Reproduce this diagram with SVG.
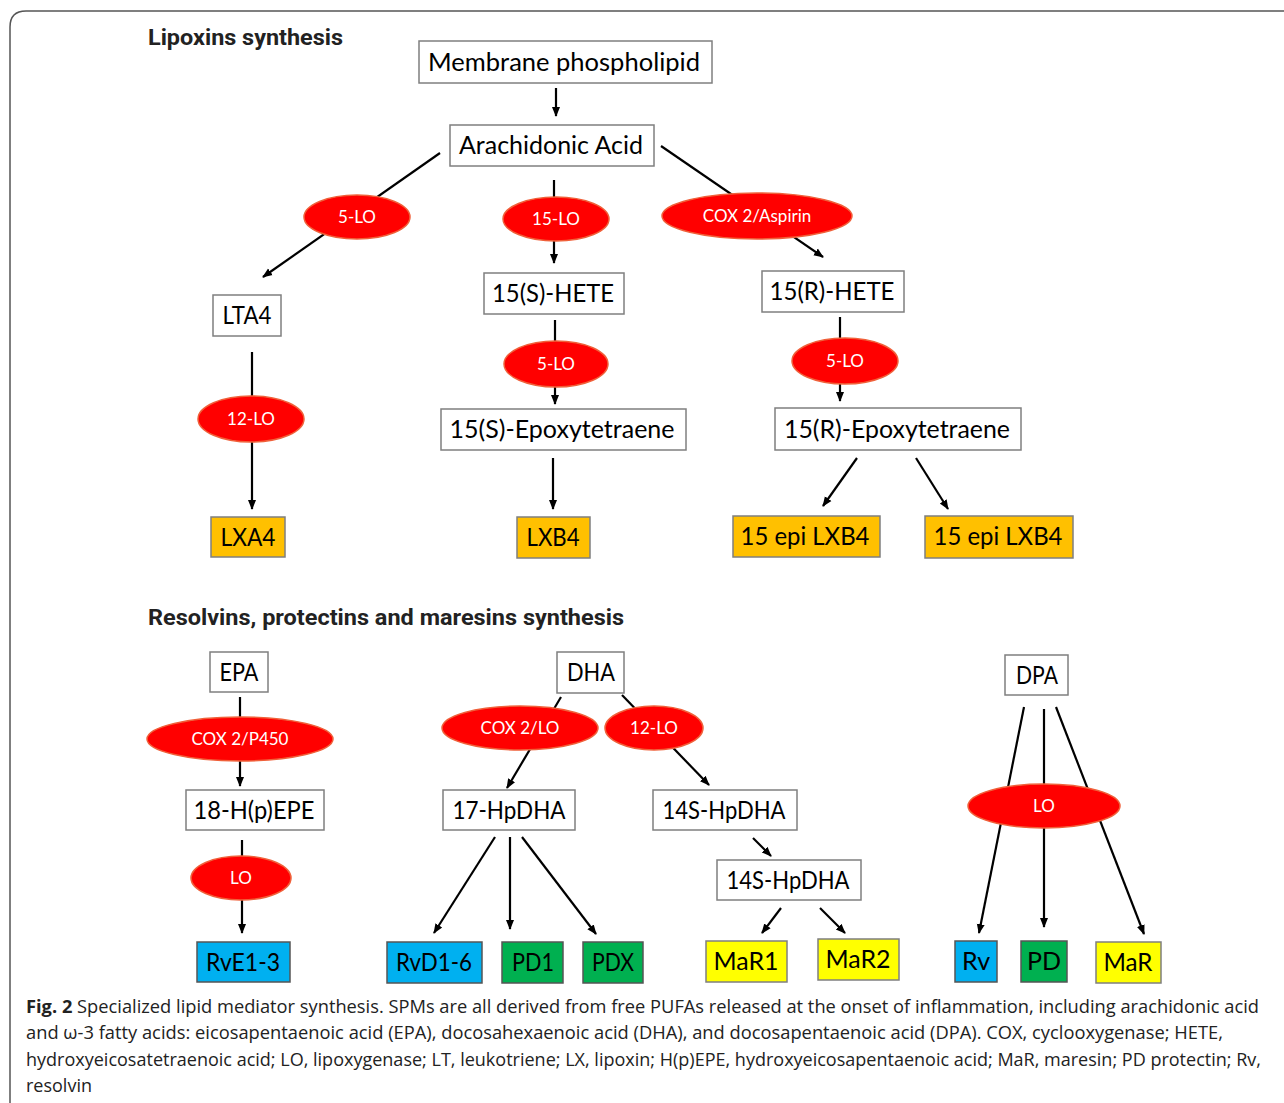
<svg xmlns="http://www.w3.org/2000/svg" width="1284" height="1103" viewBox="0 0 1284 1103">
<defs>
<marker id="ah" markerUnits="userSpaceOnUse" markerWidth="10" markerHeight="10" viewBox="0 0 10 10" refX="9" refY="5" orient="auto">
<path d="M0,1 L10,5 L0,9 z" fill="#000"/>
</marker>
</defs>
<style>
.frame{fill:none;stroke:#555;stroke-width:1.5}
.box{fill:#fff;stroke:#7f7f7f;stroke-width:1.5}
.or{fill:#FFC000;stroke:#7f7f7f;stroke-width:1.5}
.bl{fill:#00B0F0;stroke:#555;stroke-width:1.5}
.gr{fill:#00B050;stroke:#555;stroke-width:1.5}
.ye{fill:#FFFF00;stroke:#7f7f7f;stroke-width:1.5}
.enz{fill:#FF0000;stroke:#F0603A;stroke-width:1.5}
.t{font-family:Lato,"Liberation Sans",sans-serif;font-size:25px;fill:#000;text-anchor:middle}
.et{font-family:Lato,"Liberation Sans",sans-serif;font-size:17px;fill:#fff;text-anchor:middle}
.h{font-family:Roboto,"Liberation Sans",sans-serif;font-size:22.5px;font-weight:bold;fill:#222}
.cap{font-family:"Open Sans","Liberation Sans",sans-serif;font-size:18px;fill:#222}
.ln{stroke:#000;stroke-width:2.2;fill:none}
.la{stroke:#000;stroke-width:2.2;fill:none;marker-end:url(#ah)}
</style>
<rect width="1284" height="1103" fill="#fff"/>
<path class="frame" d="M10,1103 V27 Q10,11 26,11 H1284"/>
<text class="h" x="148" y="45" textLength="195" lengthAdjust="spacingAndGlyphs">Lipoxins synthesis</text>
<text class="h" x="148" y="625" textLength="476" lengthAdjust="spacingAndGlyphs">Resolvins, protectins and maresins synthesis</text>

<g id="connectors">
<line class="la" x1="556" y1="88" x2="556" y2="116"/>
<line class="la" x1="440" y1="153" x2="263" y2="277"/>
<line class="la" x1="554" y1="180" x2="554" y2="263"/>
<line class="la" x1="661" y1="146" x2="823" y2="257"/>
<line class="la" x1="252" y1="352" x2="252" y2="509"/>
<line class="la" x1="555" y1="320" x2="555" y2="404"/>
<line class="la" x1="553" y1="458" x2="553" y2="509"/>
<line class="la" x1="840" y1="317" x2="840" y2="401"/>
<line class="la" x1="857" y1="458" x2="823" y2="506"/>
<line class="la" x1="916" y1="458" x2="948" y2="509"/>
<line class="la" x1="240" y1="697" x2="240" y2="786"/>
<line class="la" x1="242" y1="840" x2="242" y2="933"/>
<line class="la" x1="561" y1="697" x2="507" y2="788"/>
<line class="la" x1="622" y1="695" x2="709" y2="785"/>
<line class="la" x1="495" y1="837" x2="434" y2="933"/>
<line class="la" x1="510" y1="837" x2="510" y2="929"/>
<line class="la" x1="522" y1="837" x2="596" y2="934"/>
<line class="la" x1="753" y1="838" x2="771" y2="856"/>
<line class="la" x1="781" y1="908" x2="762" y2="933"/>
<line class="la" x1="820" y1="908" x2="845" y2="933"/>
<line class="la" x1="1024" y1="707" x2="979" y2="933"/>
<line class="la" x1="1044" y1="709" x2="1044" y2="927"/>
<line class="la" x1="1056" y1="707" x2="1144" y2="934"/>
</g>

<g id="membrane"><rect class="box" x="419" y="41" width="293" height="42"/><text class="t" x="564" y="71" textLength="272" lengthAdjust="spacingAndGlyphs">Membrane phospholipid</text></g>
<g id="arachidonic"><rect class="box" x="450" y="125" width="204" height="41"/><text class="t" x="551" y="154" textLength="184" lengthAdjust="spacingAndGlyphs">Arachidonic Acid</text></g>
<g id="e-5lo-a"><ellipse class="enz" cx="357" cy="217" rx="53" ry="22"/><text class="et" x="357" y="223">5-LO</text></g>
<g id="e-15lo"><ellipse class="enz" cx="556" cy="219" rx="53" ry="22"/><text class="et" x="556" y="225">15-LO</text></g>
<g id="e-cox2asp"><ellipse class="enz" cx="757" cy="216" rx="95" ry="23"/><text class="et" x="757" y="222">COX 2/Aspirin</text></g>
<g id="lta4"><rect class="box" x="213" y="295" width="68" height="41"/><text class="t" x="247" y="324" textLength="49" lengthAdjust="spacingAndGlyphs">LTA4</text></g>
<g id="e-12lo-a"><ellipse class="enz" cx="251" cy="419" rx="53" ry="23"/><text class="et" x="251" y="425">12-LO</text></g>
<g id="lxa4"><rect class="or" x="211" y="517" width="74" height="40"/><text class="t" x="248" y="546" textLength="55" lengthAdjust="spacingAndGlyphs">LXA4</text></g>
<g id="hete-s"><rect class="box" x="484" y="273" width="140" height="41"/><text class="t" x="553" y="302" textLength="122" lengthAdjust="spacingAndGlyphs">15(S)-HETE</text></g>
<g id="e-5lo-b"><ellipse class="enz" cx="556" cy="364" rx="52" ry="23"/><text class="et" x="556" y="370">5-LO</text></g>
<g id="epoxy-s"><rect class="box" x="441" y="409" width="245" height="41"/><text class="t" x="562" y="438" textLength="225" lengthAdjust="spacingAndGlyphs">15(S)-Epoxytetraene</text></g>
<g id="lxb4"><rect class="or" x="517" y="517" width="73" height="41"/><text class="t" x="553" y="546" textLength="53" lengthAdjust="spacingAndGlyphs">LXB4</text></g>
<g id="hete-r"><rect class="box" x="762" y="271" width="142" height="41"/><text class="t" x="832" y="300" textLength="125" lengthAdjust="spacingAndGlyphs">15(R)-HETE</text></g>
<g id="e-5lo-c"><ellipse class="enz" cx="845" cy="361" rx="53" ry="23"/><text class="et" x="845" y="367">5-LO</text></g>
<g id="epoxy-r"><rect class="box" x="775" y="408" width="246" height="42"/><text class="t" x="897" y="438" textLength="226" lengthAdjust="spacingAndGlyphs">15(R)-Epoxytetraene</text></g>
<g id="epilxb4-1"><rect class="or" x="733" y="516" width="147" height="41"/><text class="t" x="805" y="545" textLength="129" lengthAdjust="spacingAndGlyphs">15 epi LXB4</text></g>
<g id="epilxb4-2"><rect class="or" x="925" y="516" width="148" height="42"/><text class="t" x="998" y="545" textLength="129" lengthAdjust="spacingAndGlyphs">15 epi LXB4</text></g>

<g id="epa"><rect class="box" x="210" y="652" width="58" height="40"/><text class="t" x="239" y="681" textLength="39" lengthAdjust="spacingAndGlyphs">EPA</text></g>
<g id="e-cox2p450"><ellipse class="enz" cx="240" cy="739" rx="93" ry="22"/><text class="et" x="240" y="745">COX 2/P450</text></g>
<g id="hpepe"><rect class="box" x="186" y="790" width="138" height="40"/><text class="t" x="254" y="819" textLength="121" lengthAdjust="spacingAndGlyphs">18-H(p)EPE</text></g>
<g id="e-lo-a"><ellipse class="enz" cx="241" cy="878" rx="50" ry="22"/><text class="et" x="241" y="884">LO</text></g>
<g id="rve"><rect class="bl" x="197" y="942" width="93" height="40"/><text class="t" x="243" y="971" textLength="74" lengthAdjust="spacingAndGlyphs">RvE1-3</text></g>
<g id="dha"><rect class="box" x="557" y="652" width="67" height="41"/><text class="t" x="591" y="681" textLength="48" lengthAdjust="spacingAndGlyphs">DHA</text></g>
<g id="e-cox2lo"><ellipse class="enz" cx="520" cy="728" rx="78" ry="22"/><text class="et" x="520" y="734">COX 2/LO</text></g>
<g id="e-12lo-b"><ellipse class="enz" cx="654" cy="728" rx="49" ry="22"/><text class="et" x="654" y="734">12-LO</text></g>
<g id="hpdha17"><rect class="box" x="443" y="790" width="132" height="40"/><text class="t" x="509" y="819" textLength="113" lengthAdjust="spacingAndGlyphs">17-HpDHA</text></g>
<g id="rvd"><rect class="bl" x="387" y="942" width="95" height="41"/><text class="t" x="434" y="971" textLength="76" lengthAdjust="spacingAndGlyphs">RvD1-6</text></g>
<g id="pd1"><rect class="gr" x="502" y="942" width="61" height="41"/><text class="t" x="533" y="971" textLength="42" lengthAdjust="spacingAndGlyphs">PD1</text></g>
<g id="pdx"><rect class="gr" x="583" y="942" width="60" height="41"/><text class="t" x="613" y="971" textLength="42" lengthAdjust="spacingAndGlyphs">PDX</text></g>
<g id="hpdha14a"><rect class="box" x="653" y="790" width="144" height="40"/><text class="t" x="724" y="819" textLength="123" lengthAdjust="spacingAndGlyphs">14S-HpDHA</text></g>
<g id="hpdha14b"><rect class="box" x="717" y="860" width="144" height="40"/><text class="t" x="788" y="889" textLength="123" lengthAdjust="spacingAndGlyphs">14S-HpDHA</text></g>
<g id="mar1"><rect class="ye" x="706" y="941" width="81" height="41"/><text class="t" x="746" y="970" textLength="65" lengthAdjust="spacingAndGlyphs">MaR1</text></g>
<g id="mar2"><rect class="ye" x="818" y="939" width="81" height="41"/><text class="t" x="858" y="968" textLength="65" lengthAdjust="spacingAndGlyphs">MaR2</text></g>
<g id="dpa"><rect class="box" x="1005" y="655" width="63" height="40"/><text class="t" x="1037" y="684" textLength="42" lengthAdjust="spacingAndGlyphs">DPA</text></g>
<g id="e-lo-b"><ellipse class="enz" cx="1044" cy="806" rx="76" ry="22"/><text class="et" x="1044" y="812">LO</text></g>
<g id="rv"><rect class="bl" x="955" y="941" width="42" height="41"/><text class="t" x="976" y="970">Rv</text></g>
<g id="pd"><rect class="gr" x="1021" y="941" width="46" height="41"/><text class="t" x="1044" y="970">PD</text></g>
<g id="mar"><rect class="ye" x="1096" y="942" width="65" height="41"/><text class="t" x="1128" y="971" textLength="49" lengthAdjust="spacingAndGlyphs">MaR</text></g>

<g id="caption">
<text class="cap" x="26" y="1013" textLength="1233" lengthAdjust="spacingAndGlyphs"><tspan font-weight="bold">Fig. 2</tspan>  Specialized lipid mediator synthesis. SPMs are all derived from free PUFAs released at the onset of inflammation, including arachidonic acid</text>
<text class="cap" x="26" y="1039" textLength="1197" lengthAdjust="spacingAndGlyphs">and ω-3 fatty acids: eicosapentaenoic acid (EPA), docosahexaenoic acid (DHA), and docosapentaenoic acid (DPA). COX, cyclooxygenase; HETE,</text>
<text class="cap" x="26" y="1066" textLength="1235" lengthAdjust="spacingAndGlyphs">hydroxyeicosatetraenoic acid; LO, lipoxygenase; LT, leukotriene; LX, lipoxin; H(p)EPE, hydroxyeicosapentaenoic acid; MaR, maresin; PD protectin; Rv,</text>
<text class="cap" x="26" y="1092">resolvin</text>
</g>
</svg>
